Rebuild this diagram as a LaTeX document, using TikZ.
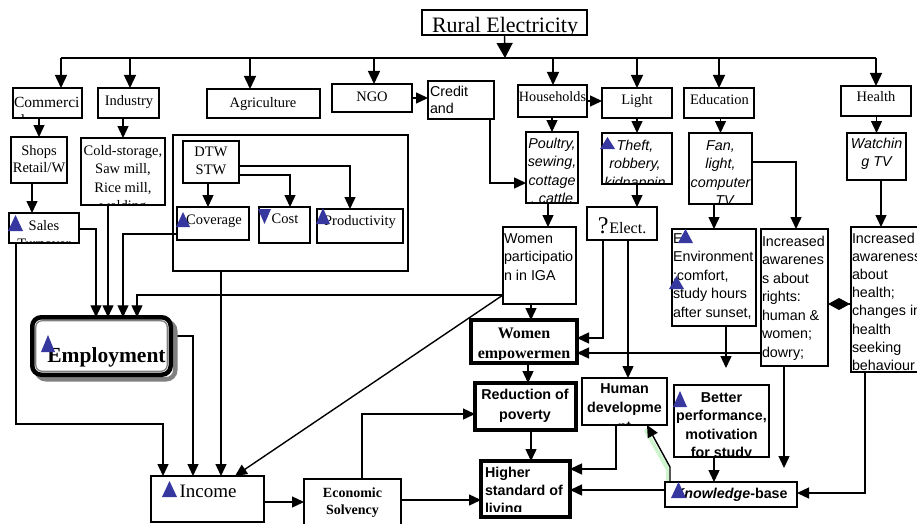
\documentclass[tikz,border=0pt]{standalone}
\usepackage{fontspec}
\setmainfont{Liberation Serif}
\newfontfamily\arialf{Liberation Sans}
\usetikzlibrary{arrows.meta}
\pgfdeclarelayer{bg}
\pgfsetlayers{bg,main}
\definecolor{tri}{RGB}{55,55,160}
\definecolor{shad}{RGB}{128,128,128}
\definecolor{sliver}{RGB}{205,245,205}
\newcommand\tabc[1]{\begin{tabular}[t]{@{}c@{}}#1\end{tabular}}
\newcommand\tabl[1]{\begin{tabular}[t]{@{}l@{}}#1\end{tabular}}
\def\cinset{0}
\newcommand\bx[9]{%
  \node[box,#6,minimum width={#4-#2},minimum height={#5-#3},anchor=north west] (#1) at (#2,#3) {};
  \begin{scope}[#6]
    \clip ([yshift=\cinset pt]#1.south west) rectangle (#1.north east);
    \node[tx,#8] (#1t) at (#7) {#9};
  \end{scope}
  \draw[bline,#6] (#1.south west) rectangle (#1.north east);
}
\newcommand\utri[4]{\fill[tri] (#1,#4) -- (#2,#4) -- ({(#1+#2)/2},#3) -- cycle;}
\newcommand\dtri[4]{\fill[tri] (#1,#3) -- (#2,#3) -- ({(#1+#2)/2},#4) -- cycle;}
\tikzset{
  cin/.code={\def\cinset{#1}},
  box/.style={draw=none,fill=white,inner sep=0pt,outer sep=0pt},
  bline/.style={draw,line width=1.7pt},
  thk/.style={line width=4.5pt},
  mid/.style={line width=2.3pt},
  tx/.style={inner sep=0pt,outer sep=0pt,anchor=base},
  bw/.style={anchor=base west},
  sr/.style={font=\fontsize{14.5}{18.5}\selectfont},
  sa/.style={font=\arialf\fontsize{14.3}{18.5}\selectfont},
  sai/.style={font=\arialf\itshape\fontsize{14.3}{18.5}\selectfont},
  sab/.style={font=\arialf\bfseries\fontsize{14.3}{18.5}\selectfont},
  ln/.style={line width=1.4pt},
  arr/.style={ln,-{Triangle[length=12pt,width=11pt]}},
  busarr/.style={ln,-{Triangle[length=13pt,width=12pt]}},
  bigarr/.style={ln,-{Triangle[length=15pt,width=16pt]}},
}
\begin{document}
\begin{tikzpicture}[x=1pt,y=-1pt]
\useasboundingbox (0,0) rectangle (917,524);
\begin{pgfonlayer}{bg}
\fill[white] (0,0) rectangle (917,524);
\end{pgfonlayer}
% ---------- boxes: top row
\bx{rural}{422}{10}{587}{35}{line width=1.5pt}{505,33}{font=\fontsize{22}{26}\selectfont}{Rural Electricity}
\bx{commerce}{13}{88}{82}{118}{mid}{14,107}{bw,font=\fontsize{15.5}{18.5}\selectfont}{\tabl{Commerci\\al}}
\bx{industry}{98}{88}{159}{118}{mid}{129,106}{sr}{Industry}
\bx{agri}{207}{89}{320}{118}{line width=2.7pt}{263,108}{sr}{Agriculture}
\bx{ngo}{332}{84}{412}{112}{}{372,102}{sr}{NGO}
\bx{credit}{428}{81}{494}{119}{}{430,97}{bw,font=\arialf\fontsize{14.3}{17}\selectfont}{\tabl{Credit\\and}}
\bx{households}{518}{85}{587}{117}{}{552.5,102}{font=\fontsize{14.2}{18}\selectfont}{Households}
\bx{light}{602}{88}{672}{118}{}{637,105}{sr}{Light}
\bx{education}{684}{88}{754}{118}{}{719.5,105}{sr}{Education}
\bx{health}{841}{86}{911}{116}{}{876,102}{sr}{Health}
% ---------- second row
\node[draw,line width=2.4pt,inner sep=0pt,outer sep=0pt,minimum width=235,minimum height=136,anchor=north west] (bigbox) at (173,135) {};
\bx{shops}{11}{137}{67}{183}{}{39,155}{font=\fontsize{14.5}{17}\selectfont}{\tabc{Shops\\Retail/W}}
\bx{sales}{9}{213}{79}{243}{}{44,230}{sr}{\tabc{Sales\\Turnover}}
\bx{cold}{81}{138}{165}{205}{}{123,155}{sr}{\tabc{Cold-storage,\\Saw mill,\\Rice mill,\\welding}}
\bx{dtw}{183}{141}{239}{183}{}{211,156}{sr}{\tabc{DTW\\STW}}
\bx{coverage}{177}{207}{249}{240}{}{214,224}{sr}{Coverage}
\bx{cost}{259}{207}{310}{243}{}{285,223}{sr}{Cost}
\bx{prod}{317}{209}{403}{243}{}{360,225}{sr}{Productivity}
\bx{poultry}{526}{132}{578}{203}{}{552,148}{sai}{\tabc{Poultry,\\sewing,\\cottage\\, cattle}}
\bx{theft}{602}{133}{672}{184}{}{635,150}{sai}{\tabc{Theft,\\robbery,\\kidnappin}}
\bx{fan}{689}{133}{752}{204}{}{720.5,150}{sai}{\tabc{Fan,\\light,\\computer\\, TV}}
\bx{watching}{847}{133}{906}{180}{}{876.5,148}{sai}{\tabc{Watchin\\g TV}}
\bx{elect}{587}{207}{657}{240}{}{622,233}{}{{\fontsize{24}{26}\selectfont ?}\kern1pt{\fontsize{16}{18}\selectfont Elect.}}
\bx{womenpart}{503}{227}{576}{304}{}{504,243}{sa,bw}{\tabl{Women\\participatio\\n in IGA}}
\bx{env}{672}{229}{756}{326}{}{673,243}{sa,bw}{\tabl{E\\Environment\\;comfort,\\study hours\\after sunset,}}
\bx{rights}{761}{229}{828}{366}{}{762,246}{sa,bw}{\tabl{Increased\\awarenes\\s about\\rights:\\human \&\\women;\\dowry;}}
\bx{healthaw}{851}{227}{925}{372}{}{852,243}{bw,font=\arialf\fontsize{14.3}{18.2}\selectfont}{\tabl{Increased\\awareness\\about\\health;\\changes in\\health\\seeking\\behaviour}}
% ---------- lower part
\bx{wemp}{471}{320}{577}{363}{thk,cin=4}{524,338}{font=\bfseries\fontsize{16}{20}\selectfont}{\tabc{Women\\empowermen}}
\bx{reduction}{475}{383}{576}{430}{thk}{525,399}{font=\arialf\bfseries\fontsize{14.3}{20}\selectfont}{\tabc{Reduction of\\poverty}}
\bx{higher}{481}{461}{570}{517}{thk,cin=6}{485,477}{bw,font=\arialf\bfseries\fontsize{14.3}{18}\selectfont}{\tabl{Higher\\standard of\\living}}
\bx{human}{582}{378}{667}{425}{}{624.5,393}{font=\arialf\bfseries\fontsize{14.3}{19}\selectfont}{\tabc{Human\\developme\\nt}}
\bx{better}{674}{385}{769}{457}{}{721.5,402}{sab}{\tabc{Better\\performance,\\motivation\\for study}}
\bx{knowledge}{665}{482}{797}{507}{}{674,498}{sab,bw}{{\itshape Knowledge}-base}
\bx{income}{151}{476}{264}{522}{}{208,497}{font=\fontsize{19}{22}\selectfont}{Income}
\bx{econ}{304}{479}{401}{535}{}{352.5,497}{font=\bfseries\fontsize{14}{17}\selectfont}{\tabc{Economic\\Solvency}}
% ---------- Employment
\draw[shad,line width=4.5pt,rounded corners=9pt] (36.75,321.75) rectangle (175.25,379.25);
\node[draw,line width=4.5pt,fill=white,rounded corners=9pt,inner sep=0pt,outer sep=0pt,minimum width=138.5,minimum height=57.5,anchor=north west] (emp) at (32.25,317.25) {};
\draw[shad,line width=1.3pt,rounded corners=6pt] (35.8,320.8) rectangle (167.2,371.2);
\node[tx,font=\bfseries\fontsize{21.5}{24}\selectfont] (empt) at (106.5,362) {Employment};
% ---------- connectors
\begin{pgfonlayer}{bg}
\coordinate (d0) at (505,58);
\coordinate (bL) at (61,58);
\coordinate (bR) at (876,58);
\draw[line width=2pt] (bL) -- (bR);
\draw[bigarr] (rural.south) -- (d0);
\foreach \xx/\nn in {61/commerce,130/industry,250/agri,374/ngo,553/households,637/light,719/education,876/health}{
  \coordinate (tmp) at (\xx,58);
  \draw[busarr] (tmp) -- (tmp |- \nn.north);
}
\draw[arr] (ngo.east) -- (ngo.east -| credit.west);
\draw[arr] (households.east) -- (households.east -| light.west);
\draw[arr] (shops.north |- commerce.south) -- (shops.north);
\draw[arr] (cold.north |- industry.south) -- (cold.north);
\coordinate (c32) at (32,0);
\draw[arr] (shops.south -| c32) -- (sales.north -| c32);
\coordinate (j1) at (490,183);
\draw[arr] (credit.south -| j1) -- (j1) -- (j1 -| poultry.west);
\draw[arr] (poultry.north |- households.south) -- (poultry.north);
\draw[arr] (light.south) -- (light.south |- theft.north);
\draw[arr] (fan.north |- education.south) -- (fan.north);
\draw[arr] (watching.north |- health.south) -- (watching.north);
\coordinate (c548) at (548,0);
\draw[arr] (poultry.south -| c548) -- (womenpart.north -| c548);
\draw[arr] (theft.south) -- (theft.south |- elect.north);
\draw[arr] (env.north |- fan.south) -- (env.north);
\coordinate (j2) at (796,162);
\draw[arr] (fan.east |- j2) -- (j2) -- (j2 |- rights.north);
\coordinate (c881) at (881,0);
\draw[arr] (watching.south -| c881) -- (healthaw.north -| c881);
\coordinate (c208) at (208,0);
\draw[arr] (dtw.south -| c208) -- (coverage.north -| c208);
\coordinate (j3) at (290,175);
\draw[arr] (dtw.east |- j3) -- (j3) -- (j3 |- cost.north);
\coordinate (j4) at (350,166);
\draw[arr] (dtw.east |- j4) -- (j4) -- (j4 |- prod.north);
% into Employment
\coordinate (j5) at (96,229);
\draw[arr] (sales.east |- j5) -- (j5) -- (j5 |- emp.north);
\coordinate (c108) at (108,0);
\draw[arr] (cold.south -| c108) -- (emp.north -| c108);
\coordinate (j6) at (123,234);
\draw[arr] (coverage.west |- j6) -- (j6) -- (j6 |- emp.north);
\coordinate (j7) at (137,295);
\draw[arr] (womenpart.west |- j7) -- (j7) -- (j7 |- emp.north);
% into Income
\coordinate (j8) at (193,336);
\draw[arr] (emp.east |- j8) -- (j8) -- (j8 |- income.north);
\coordinate (j9) at (16,424);
\coordinate (j10) at (163,424);
\draw[arr] (sales.south -| j9) -- (j9) -- (j10) -- (j10 |- income.north);
\coordinate (c221) at (221,0);
\draw[arr] (bigbox.south -| c221) -- (income.north -| c221);
\coordinate (c235) at (235,0);
\draw[arr] (womenpart.west |- j7) -- (income.north -| c235);
\coordinate (c502) at (0,502);
\draw[arr] (income.east |- c502) -- (econ.west |- c502);
\coordinate (j12) at (362,414);
\draw[arr] (econ.north -| j12) -- (j12) -- (j12 -| reduction.west);
\coordinate (c500) at (0,500);
\draw[arr] (econ.east |- c500) -- (higher.west |- c500);
% women empowerment and right side
\coordinate (c531) at (531,0);
\draw[arr] (womenpart.south -| c531) -- (wemp.north -| c531);
\coordinate (j13) at (603,338);
\draw[arr] (elect.south -| j13) -- (j13) -- (j13 -| wemp.east);
\coordinate (c628) at (628,0);
\draw[arr] (elect.south -| c628) -- (human.north -| c628);
\coordinate (c353) at (0,353);
\draw[arr] (rights.west |- c353) -- (wemp.east |- c353);
\coordinate (c304) at (0,304);
\draw[ln,-{Diamond[length=22pt,width=12pt]}] (healthaw.west |- c304) -- (rights.east |- c304);
\coordinate (e1) at (726,368);
\draw[arr] (env.south -| e1) -- (e1);
\coordinate (e2) at (784,468);
\draw[arr] (rights.south -| e2) -- (e2);
\coordinate (j14) at (865,493);
\draw[arr] (healthaw.south -| j14) -- (j14) -- (j14 -| knowledge.east);
\coordinate (c528) at (528,0);
\draw[arr] (wemp.south -| c528) -- (reduction.north -| c528);
\draw[arr] (reduction.south -| c531) -- (higher.north -| c531);
\coordinate (j16) at (616,469);
\draw[arr] (human.south -| j16) -- (j16) -- (j16 -| higher.east);
\coordinate (c490) at (0,490);
\draw[arr] (knowledge.west |- c490) -- (higher.east |- c490);
\coordinate (c714) at (714,0);
\draw[arr] (better.south -| c714) -- (knowledge.north -| c714);
\fill[sliver] (646,428) -- (669,467) -- (669,481) -- (666,481) -- (666,470) -- (644,431) -- cycle;
\coordinate (j15) at (670,467);
\coordinate (c647) at (647,0);
\draw[arr] (knowledge.north -| j15) -- (j15) -- (human.south -| c647);
\end{pgfonlayer}
% ---------- blue triangles
\utri{8}{23}{215}{231}
\utri{176}{190}{212}{227}
\dtri{258}{271}{209}{224}
\utri{316}{330}{208}{224}
\utri{600}{615}{137}{149}
\utri{678}{693}{229}{243}
\utri{669}{684}{276}{289}
\utri{41}{55}{335}{352}
\utri{162}{177}{481}{497}
\utri{673}{687}{391}{407}
\utri{671}{686}{482}{498}
\end{tikzpicture}
\end{document}
